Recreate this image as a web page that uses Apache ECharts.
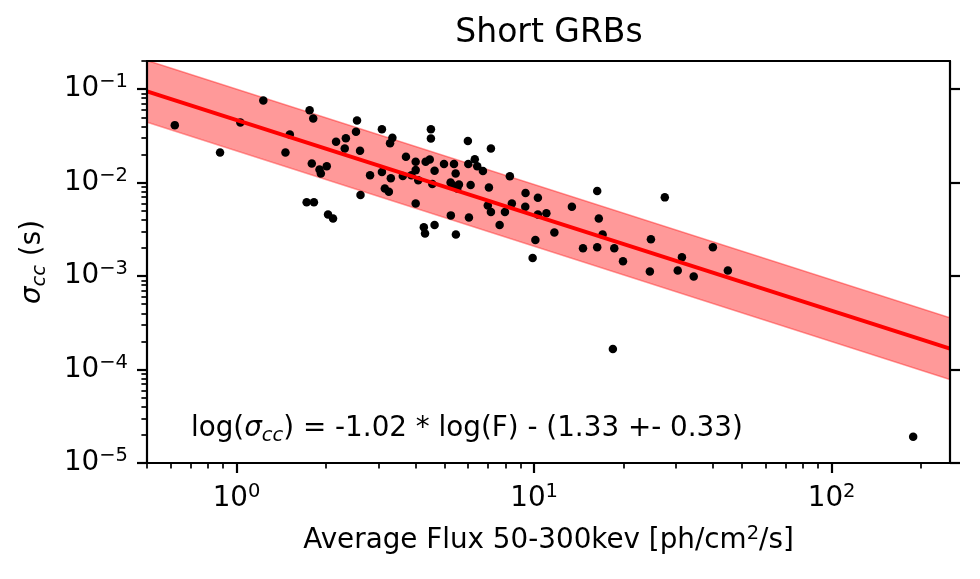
<!DOCTYPE html>
<html>
<head>
<meta charset="utf-8">
<script src="https://cdn.jsdelivr.net/npm/echarts@6/dist/echarts.min.js"></script>
<style>
html, body { margin: 0; padding: 0; background: #fff; }
#chart { width: 980px; height: 579px; }
</style>
</head>
<body>
<div id="chart"></div>
<script>
// average flux 50-300 keV [ph/cm^2/s]
var flux = [
	0.62, 0.88, 1.03, 1.23, 1.46, 1.51, 1.76, 1.81, 1.79, 1.90,
	1.92, 2.01, 1.72, 1.82, 2.03, 2.11, 2.16, 2.33, 2.31, 2.54,
	2.52, 2.60, 2.61, 2.81, 3.08, 3.08, 3.30, 3.34, 3.28, 3.15,
	3.25, 3.62, 4.50, 4.50, 3.71, 4.00, 4.32, 4.46, 4.98, 5.38,
	5.99, 7.16, 6.01, 6.32, 6.44, 6.73, 4.00, 4.63, 3.87, 4.08,
	4.55, 5.24, 5.45, 5.59, 5.52, 5.31, 6.12, 7.05, 8.29, 9.36,
	10.3, 8.42, 6.99, 7.16, 7.98, 9.34, 10.3, 11.0, 4.00, 5.25,
	6.04, 7.66, 4.26, 4.30, 4.63, 5.46, 11.7, 10.1, 13.4, 16.3,
	16.5, 17.0, 14.6, 16.3, 18.6, 9.89, 19.9, 27.5, 24.7, 24.5,
	31.4, 30.4, 34.4, 39.9, 44.8, 18.4, 188
];
// sigma_cc [s]
var sigma = [
	0.0412, 0.0210, 0.0440, 0.0757, 0.0210, 0.0328, 0.0596, 0.0486, 0.0160, 0.0138,
	0.0125, 0.0150, 0.00618, 0.00618, 0.00457, 0.00414, 0.0273, 0.0299, 0.0232, 0.0463,
	0.0349, 0.0219, 0.00735, 0.0120, 0.0373, 0.0130, 0.0111, 0.0301, 0.0263, 0.00867,
	0.00797, 0.0118, 0.0373, 0.0297, 0.0189, 0.0167, 0.0167, 0.0177, 0.0158, 0.0158,
	0.0278, 0.0232, 0.0158, 0.0178, 0.0150, 0.0133, 0.0136, 0.0134, 0.0120, 0.0106,
	0.00964, 0.0100, 0.0125, 0.00957, 0.00867, 0.0094, 0.0094, 0.00888, 0.0117, 0.00772,
	0.00688, 0.00599, 0.00570, 0.00484, 0.00484, 0.00551, 0.00457, 0.00469, 0.00599, 0.00446,
	0.00424, 0.00351, 0.00332, 0.00286, 0.00351, 0.00279, 0.00293, 0.00243, 0.00551, 0.00811,
	0.00414, 0.00279, 0.00198, 0.00203, 0.00198, 0.00156, 0.00144, 0.00695, 0.00247, 0.00112,
	0.00159, 0.00115, 0.00099, 0.00203, 0.00115, 0.000166, 0.0000191
];
// fit: log(sigma) = slope * log(F) + icpt, band +- spread
var fitSlope = -1.02;
var fitIcpt = -1.33;
var fitSpread = 0.33;
var fluxRange = [0.5, 250];
var sigmaRange = [1e-5, 0.2];
var xMajor = [1, 10, 100];
var yMajor = [1e-5, 1e-4, 1e-3, 1e-2, 1e-1];

var lg = Math.log10;
var FONT = 'DejaVu Sans';
var FS = 27.8, FS_SMALL = 19.5;

function minorTicks(lo, hi) {
	var out = [];
	for (var e = Math.floor(lg(lo)); e <= Math.ceil(lg(hi)); e++) {
		for (var k = 2; k <= 9; k++) {
			var v = k * Math.pow(10, e);
			if (v >= lo * 0.999 && v <= hi * 1.001) out.push(lg(v));
		}
	}
	return out;
}

function powLabel(v) {
	var e = Math.round(v);
	return '{b|10}{s|' + String(e).replace('-', '−') + '}';
}

var tickRich = {
	b: {fontFamily: FONT, fontSize: FS, color: '#000', lineHeight: 34},
	s: {fontFamily: FONT, fontSize: FS_SMALL, color: '#000', lineHeight: 22, verticalAlign: 'top'}
};

var xMin = lg(fluxRange[0]), xMax = lg(fluxRange[1]);
var yMin = lg(sigmaRange[0]), yMax = lg(sigmaRange[1]);

function fitAt(f, off) {
	return fitSlope * lg(f) + fitIcpt + off;
}

var points = flux.map(function (f, i) { return [lg(f), lg(sigma[i])]; });
var fitLine = fluxRange.map(function (f) { return [lg(f), fitAt(f, 0)]; });
var fitBand = fluxRange.map(function (f) { return [lg(f), fitAt(f, -fitSpread), fitAt(f, fitSpread)]; });

var black = '#000';
var axisBase = {
	type: 'value', gridIndex: 0, z: 5,
	splitLine: {show: false}
};
var spine = {show: true, onZero: false, lineStyle: {color: black, width: 2.2}};
var noSpine = {show: false, onZero: false};

var chart = echarts.init(document.getElementById('chart'));
chart.setOption({
	animation: false,
	backgroundColor: '#fff',
	title: {
		text: 'Short GRBs',
		left: 544, top: 12, textAlign: 'center',
		textStyle: {fontFamily: FONT, fontSize: 33, fontWeight: 'normal', color: black}
	},
	grid: {left: 147, right: 30, top: 61, bottom: 116},
	xAxis: [
		Object.assign({}, axisBase, {
			position: 'bottom', min: xMin, max: xMax,
			axisLine: spine,
			axisTick: {show: true, customValues: xMajor.map(lg), length: 10, lineStyle: {color: black, width: 2.2}},
			axisLabel: {show: true, customValues: xMajor.map(lg), margin: 19, formatter: powLabel, rich: tickRich},
			name: 'Average Flux 50-300kev [ph/cm{s|2}/s]',
			nameLocation: 'middle', nameGap: 61,
			nameTextStyle: {
				fontFamily: FONT, fontSize: FS, color: black, lineHeight: 34,
				rich: {s: {fontFamily: FONT, fontSize: FS_SMALL, color: black, lineHeight: 22, verticalAlign: 'top'}}
			}
		}),
		Object.assign({}, axisBase, {
			position: 'bottom', min: xMin, max: xMax,
			axisLine: noSpine,
			axisTick: {show: true, customValues: minorTicks(fluxRange[0], fluxRange[1]), length: 5.6, lineStyle: {color: black, width: 1.7}},
			axisLabel: {show: false}
		}),
		Object.assign({}, axisBase, {
			position: 'top', min: xMin, max: xMax,
			axisLine: spine,
			axisTick: {show: false},
			axisLabel: {show: false}
		})
	],
	yAxis: [
		Object.assign({}, axisBase, {
			position: 'left', min: yMin, max: yMax,
			axisLine: spine,
			axisTick: {show: true, customValues: yMajor.map(lg), length: 10, lineStyle: {color: black, width: 2.2}},
			axisLabel: {show: true, customValues: yMajor.map(lg), margin: 19, formatter: powLabel, rich: tickRich},
			name: '{i|σ}{c|cc} (s)',
			nameLocation: 'middle', nameGap: 97,
			nameTextStyle: {
				fontFamily: FONT, fontSize: FS, color: black, lineHeight: 34,
				rich: {
					i: {fontFamily: FONT, fontSize: FS, fontStyle: 'italic', color: black, lineHeight: 34},
					c: {fontFamily: FONT, fontSize: FS_SMALL, fontStyle: 'italic', color: black, lineHeight: 22, verticalAlign: 'bottom'}
				}
			}
		}),
		Object.assign({}, axisBase, {
			position: 'left', min: yMin, max: yMax,
			axisLine: noSpine,
			axisTick: {show: true, customValues: minorTicks(sigmaRange[0], sigmaRange[1]), length: 5.6, lineStyle: {color: black, width: 1.7}},
			axisLabel: {show: false}
		}),
		Object.assign({}, axisBase, {
			position: 'right', min: yMin, max: yMax,
			axisLine: spine,
			axisTick: {show: true, customValues: yMajor.map(lg), length: 10, lineStyle: {color: black, width: 2.2}},
			axisLabel: {show: false}
		})
	],
	graphic: [{
		type: 'text',
		left: 191, top: 415,
		z: 10,
		style: {
			text: '{n|log(}{i|σ}{c|cc}{n|) = -1.02 * log(F) - (1.33 +- 0.33)}',
			rich: {
				n: {fontFamily: FONT, fontSize: FS, fill: black, lineHeight: 34},
				i: {fontFamily: FONT, fontSize: FS, fontStyle: 'italic', fill: black, lineHeight: 34},
				c: {fontFamily: FONT, fontSize: FS_SMALL, fontStyle: 'italic', fill: black, lineHeight: 22, verticalAlign: 'bottom'}
			}
		}
	}],
	series: [{
		type: 'custom',
		xAxisIndex: 0, yAxisIndex: 0,
		clip: true,
		silent: true,
		data: fitBand,
		renderItem: function (params, api) {
			if (params.dataIndex !== 0) return;
			var a0 = api.coord([api.value(0, 0), api.value(1, 0)]);
			var a1 = api.coord([api.value(0, 1), api.value(1, 1)]);
			var b0 = api.coord([api.value(0, 0), api.value(2, 0)]);
			var b1 = api.coord([api.value(0, 1), api.value(2, 1)]);
			return {
				type: 'group',
				children: [{
					type: 'polygon',
					shape: {points: [b0, b1, a1, a0]},
					style: {fill: 'rgba(255,0,0,0.4)', stroke: null}
				}, {
					type: 'polyline',
					shape: {points: [b0, b1]},
					style: {fill: null, stroke: 'rgba(255,0,0,0.4)', lineWidth: 1.5}
				}, {
					type: 'polyline',
					shape: {points: [a0, a1]},
					style: {fill: null, stroke: 'rgba(255,0,0,0.4)', lineWidth: 1.5}
				}]
			};
		}
	}, {
		type: 'line',
		xAxisIndex: 0, yAxisIndex: 0,
		data: fitLine,
		symbol: 'none',
		silent: true,
		lineStyle: {color: '#ff0000', width: 4}
	}, {
		type: 'scatter',
		xAxisIndex: 0, yAxisIndex: 0,
		data: points,
		symbol: 'circle',
		symbolSize: 8.5,
		itemStyle: {color: black, opacity: 1}
	}]
});
</script>
</body>
</html>
